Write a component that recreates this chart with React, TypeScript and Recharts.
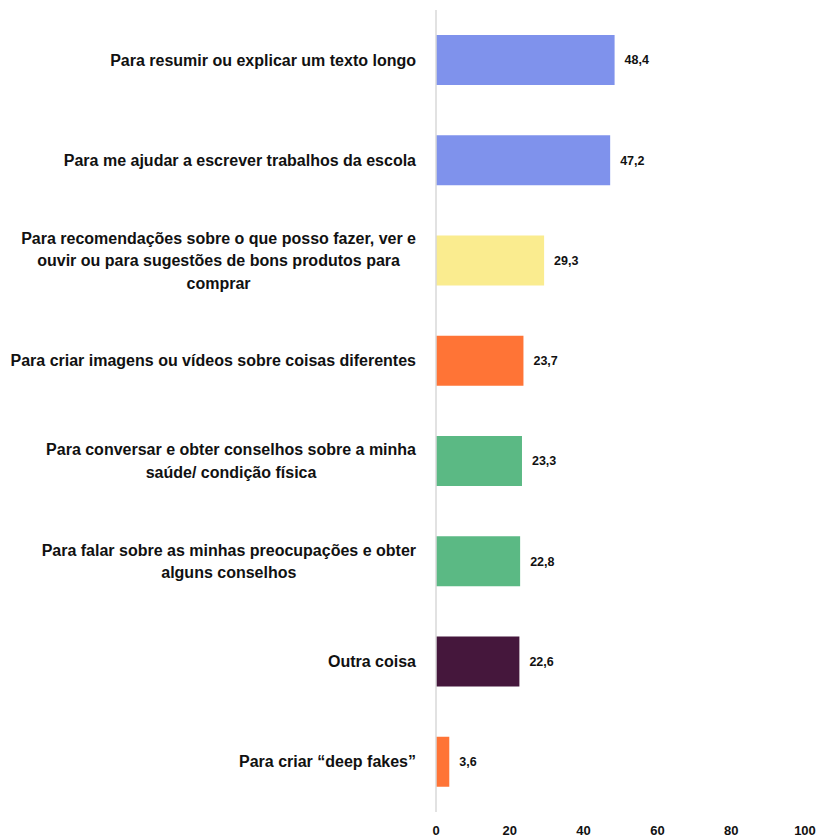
import React from "react";
import { BarChart, Bar, XAxis, YAxis, LabelList, Cell } from "recharts";

const categories = [
  "Para resumir ou explicar um texto longo",
  "Para me ajudar a escrever trabalhos da escola",
  "Para recomendações sobre o que posso fazer, ver e ouvir ou para sugestões de bons produtos para comprar",
  "Para criar imagens ou vídeos sobre coisas diferentes",
  "Para conversar e obter conselhos sobre a minha saúde/ condição física",
  "Para falar sobre as minhas preocupações e obter alguns conselhos",
  "Outra coisa",
  "Para criar “deep fakes”",
];

const labelLines = [
  ["Para resumir ou explicar um texto longo"],
  ["Para me ajudar a escrever trabalhos da escola"],
  [
    "Para recomendações sobre o que posso fazer, ver e",
    "ouvir ou para sugestões de bons produtos para",
    "comprar",
  ],
  ["Para criar imagens ou vídeos sobre coisas diferentes"],
  ["Para conversar e obter conselhos sobre a minha", "saúde/ condição física"],
  ["Para falar sobre as minhas preocupações e obter", "alguns conselhos"],
  ["Outra coisa"],
  ["Para criar “deep fakes”"],
];

const values = [48.4, 47.2, 29.3, 23.7, 23.3, 22.8, 22.6, 3.6];

const barColors = [
  "#7F92EC",
  "#7F92EC",
  "#FAEC8F",
  "#FF7436",
  "#5BB984",
  "#5BB984",
  "#45173C",
  "#FF7436",
];

const xTicks = [0, 20, 40, 60, 80, 100];

const data = categories.map((name, i) => ({ name, value: values[i] }));

const LABEL_FONT = "bold 16px 'Liberation Sans', Arial, sans-serif";
let ctx: CanvasRenderingContext2D | null = null;
const measure = (s: string) => {
  if (!ctx) ctx = document.createElement("canvas").getContext("2d");
  if (!ctx) return s.length * 8.5;
  ctx.font = LABEL_FONT;
  return ctx.measureText(s).width;
};

const CategoryTick = (props: any) => {
  const { y, payload } = props;
  const lines = labelLines[payload.index] || [payload.value];
  const boxW = Math.max(...lines.map(measure));
  const cx = 416 - boxW / 2;
  const lh = 22.5;
  const startY = y - ((lines.length - 1) * lh) / 2;
  return (
    <text textAnchor="middle" fill="#111" style={{ font: LABEL_FONT }}>
      {lines.map((l: string, i: number) => (
        <tspan key={i} x={cx} y={startY + i * lh} dy="0.35em">
          {l}
        </tspan>
      ))}
    </text>
  );
};

export default function App() {
  return (
    <div style={{ position: "absolute", left: 0, top: 0, background: "#fff" }}>
      <BarChart
        width={817}
        height={838}
        data={data}
        layout="vertical"
        margin={{ top: 10, right: 12, bottom: 0, left: 0 }}
      >
        <XAxis
          type="number"
          domain={[0, 100]}
          ticks={xTicks}
          axisLine={false}
          tickLine={false}
          height={26}
          tick={{
            fill: "#111",
            fontSize: 13,
            fontWeight: "bold",
            fontFamily: "'Liberation Sans', Arial, sans-serif",
          }}
          tickMargin={8}
          interval={0}
        />
        <YAxis
          type="category"
          dataKey="name"
          width={436}
          axisLine={{ stroke: "#d9d9d9", strokeWidth: 1.5 }}
          tickLine={false}
          tick={<CategoryTick />}
          interval={0}
        />
        <Bar dataKey="value" barSize={50} isAnimationActive={false}>
          {data.map((_, i) => (
            <Cell key={i} fill={barColors[i]} />
          ))}
          <LabelList
            dataKey="value"
            position="right"
            offset={10}
            formatter={(v: any) => String(v).replace(".", ",")}
            style={{
              fill: "#111",
              fontSize: 12.5,
              fontWeight: "bold",
              fontFamily: "'Liberation Sans', Arial, sans-serif",
            }}
          />
        </Bar>
      </BarChart>
    </div>
  );
}
